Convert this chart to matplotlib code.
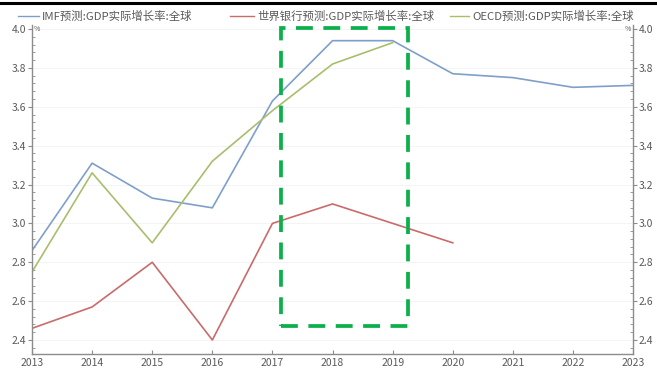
import matplotlib
matplotlib.use("Agg")
from matplotlib import pyplot as plt
from matplotlib.ticker import MultipleLocator, AutoMinorLocator
from matplotlib.patches import Rectangle
from matplotlib.lines import Line2D

plt.rcParams['font.family'] = ['Noto Sans CJK SC', 'DejaVu Sans']

years = [2013, 2014, 2015, 2016, 2017, 2018, 2019, 2020, 2021, 2022, 2023]
imf = [2.86, 3.31, 3.13, 3.08, 3.63, 3.94, 3.94, 3.77, 3.75, 3.70, 3.71]
wb_years = [2013, 2014, 2015, 2016, 2017, 2018, 2019, 2020]
wb = [2.46, 2.57, 2.80, 2.40, 3.00, 3.10, 3.00, 2.90]
oecd_years = [2013, 2014, 2015, 2016, 2017, 2018, 2019]
oecd = [2.75, 3.26, 2.90, 3.32, 3.58, 3.82, 3.93]

labels = ['IMF预测:GDP实际增长率:全球',
          '世界银行预测:GDP实际增长率:全球',
          'OECD预测:GDP实际增长率:全球']
colors = ['#7f9fcb', '#c96b6b', '#a9be6c']

# highlighted span (years) and value range
box_x = (2017.15, 2019.25)
box_y = (2.47, 4.005)

axis_gray = '#8c8c8c'
text_gray = '#5a5a5a'

W, H = 657, 378
fig = plt.figure(figsize=(W / 100, H / 100), dpi=100)
ax = fig.add_axes([0.0487, 0.0635, 0.915, 0.870])

ax.plot(years, imf, color=colors[0], lw=1.2)
ax.plot(wb_years, wb, color=colors[1], lw=1.2)
ax.plot(oecd_years, oecd, color=colors[2], lw=1.2)

ax.set_xlim(2013, 2023)
ax.set_ylim(2.328, 4.02)
ax.xaxis.set_major_locator(MultipleLocator(1))
ax.yaxis.set_major_locator(MultipleLocator(0.2))
ax.yaxis.set_minor_locator(AutoMinorLocator(5))
ax.yaxis.set_major_formatter(plt.FormatStrFormatter('%.1f'))
ax.grid(axis='y', color='#f2f2f2', lw=0.6)

for s in ['left', 'right', 'bottom']:
    ax.spines[s].set_color(axis_gray)
    ax.spines[s].set_linewidth(1.0)
ax.spines['top'].set_visible(False)

ax.tick_params(axis='y', which='major', direction='out', length=3, width=0.8,
               color=axis_gray, labelsize=7.5, labelcolor=text_gray, pad=1,
               left=True, right=True, labelleft=True, labelright=True)
ax.tick_params(axis='y', which='minor', direction='in', length=2, width=0.6,
               color=axis_gray, left=True, right=True)
ax.tick_params(axis='x', which='major', direction='in', length=3, width=0.8,
               color=axis_gray, labelsize=7.5, labelcolor=text_gray, pad=3)

ax.text(0.003, 1.0, '%', transform=ax.transAxes, fontsize=5, color=text_gray,
        ha='left', va='top')
ax.text(0.997, 1.0, '%', transform=ax.transAxes, fontsize=5, color=text_gray,
        ha='right', va='top')

rect = Rectangle((box_x[0], box_y[0]), box_x[1] - box_x[0], box_y[1] - box_y[0],
                 fill=False, edgecolor='#0cb04a', lw=2.7, ls=(0, (4.5, 2.8)),
                 clip_on=False, zorder=5)
ax.add_patch(rect)

# legend row along the top, laid out by pixel position
legend_y = 1 - 16 / H
entries = [(18, 42), (230, 257), (450, 472)]
for (x0, tx), c, lab in zip(entries, colors, labels):
    fig.add_artist(Line2D([x0 / W, (tx - 3) / W], [legend_y, legend_y],
                          color=c, lw=1.0, transform=fig.transFigure))
    fig.text(tx / W, legend_y, lab, fontsize=8.2, color=text_gray,
             ha='left', va='center')

# rule across the top of the figure
fig.add_artist(Line2D([0.0, 1.0], [0.992, 0.992], color='black', lw=2.2,
                      transform=fig.transFigure))

fig.savefig('out.png', dpi=100)
